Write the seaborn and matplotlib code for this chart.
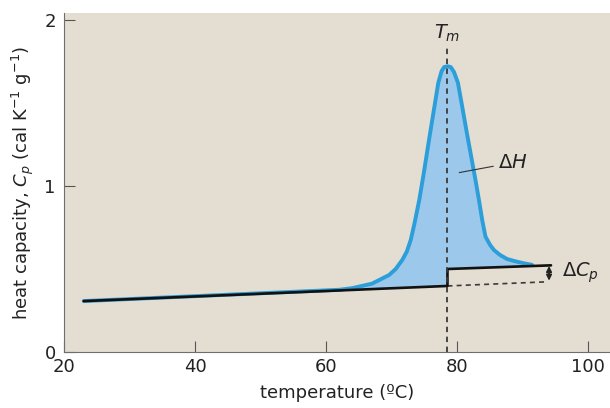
import numpy as np
import matplotlib
matplotlib.use("Agg")
import matplotlib.pyplot as plt
import seaborn as sns

# baseline (native -> unfolded, with the step at Tm)
base_x = [23.0, 78.5, 78.5, 94.3]
base_y = [0.307, 0.398, 0.500, 0.522]

peak_x = [23.0, 62.0, 64.0, 67.0, 69.6, 70.6, 71.6, 72.3, 72.9, 73.5, 74.2, 74.9, 75.7, 76.4,
          77.1, 77.6, 78.0, 78.5, 79.0, 79.5, 80.1, 80.8, 81.5, 82.8, 83.3, 83.8, 84.3, 85.0,
          85.6, 86.5, 87.6, 89.0, 90.2, 91.4]
peak_y = [0.307, 0.375, 0.385, 0.412, 0.464, 0.50, 0.554, 0.605, 0.675, 0.78, 0.916, 1.08, 1.28, 1.45,
          1.62, 1.69, 1.715, 1.72, 1.715, 1.685, 1.62, 1.466, 1.31, 1.03, 0.916, 0.795, 0.695, 0.645,
          0.614, 0.585, 0.560, 0.545, 0.534, 0.525]

tm = 78.5
dcp_x = 94.0
dcp_lo, dcp_hi = 0.43, 0.518

xticks = [20, 40, 60, 80, 100]
yticks = [0, 1, 2]

sns.set_style("ticks", {"axes.facecolor": "#e3ddd2", "axes.edgecolor": "#6e6e6e"})
plt.rcParams["font.family"] = ["DejaVu Sans"]
plt.rcParams["mathtext.fontset"] = "dejavusans"

fig = plt.figure(figsize=(6.10, 4.08), dpi=100)
ax = fig.add_axes([0.105, 0.137, 0.895, 0.831])

# shaded area between the measured curve and the baseline
i0 = peak_x.index(62.0)
fx = peak_x[i0:] + [91.4, tm, tm, 62.0]
fy = peak_y[i0:] + [float(np.interp(91.4, base_x[2:], base_y[2:])), base_y[2], base_y[1],
                    float(np.interp(62.0, base_x[:2], base_y[:2]))]
ax.fill(fx, fy, color="#9bc8eb", lw=0, zorder=1)

sns.lineplot(x=peak_x, y=peak_y, sort=False, estimator=None, color="#2c9ed9", lw=2.8,
             ax=ax, zorder=3)
sns.lineplot(x=base_x, y=base_y, sort=False, estimator=None, color="#111111", lw=1.9,
             ax=ax, zorder=4)

# Tm marker and extrapolated native baseline
ax.plot([tm, tm], [0, 1.84], ls=(0, (3, 2.5)), color="#3a3a3a", lw=1.3, zorder=5)
slope = (base_y[1] - base_y[0]) / (base_x[1] - base_x[0])
ax.plot([tm, 93.3], [base_y[1], base_y[1] + slope * (93.3 - tm)],
        ls=(0, (3, 2.5)), color="#3a3a3a", lw=1.2, zorder=2)
ax.annotate("", xy=(dcp_x, dcp_hi), xytext=(dcp_x, dcp_lo),
            arrowprops=dict(arrowstyle="<|-|>", color="#222222", lw=1.2,
                            mutation_scale=8, shrinkA=0, shrinkB=0))

ax.text(tm, 1.915, r"$T_m$", ha="center", va="center", fontsize=14, color="#222222")
ax.text(96.0, 0.475, r"$\Delta C_p$", ha="left", va="center", fontsize=14, color="#222222")
ax.annotate(r"$\Delta H$", xy=(80.3, 1.08), xytext=(86.2, 1.14), fontsize=14,
            color="#222222", va="center",
            arrowprops=dict(arrowstyle="-", color="#333333", lw=0.8, shrinkA=1, shrinkB=0))

ax.set_xlim(20, 103.3)
ax.set_ylim(0, 2.04)
ax.set_xticks(xticks)
ax.set_yticks(yticks)
ax.tick_params(direction="in", length=8, width=0.8, color="#555555",
               labelsize=13, labelcolor="#222222", pad=4)
ax.tick_params(axis="y", pad=6)
ax.set_xlabel("temperature (ºC)", fontsize=13, color="#222222", labelpad=6)
ax.set_ylabel(r"heat capacity, $C_p$ (cal K$^{-1}$ g$^{-1}$)", fontsize=13,
              color="#222222", labelpad=6)
sns.despine(ax=ax)

fig.savefig("out.png", dpi=100)
